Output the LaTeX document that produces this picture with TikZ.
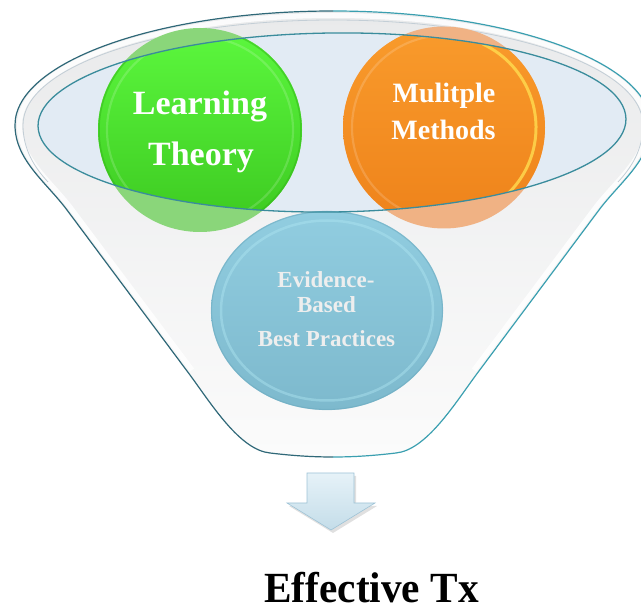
\documentclass[tikz,border=0pt]{standalone}
\usepackage{fontspec}
\setmainfont{Liberation Serif}
\definecolor{bodyTop}{HTML}{E9EAEB}
\definecolor{bodyBot}{HTML}{FBFBFB}
\definecolor{openFill}{HTML}{E2EBF4}
\definecolor{lineL}{HTML}{2F6878}
\definecolor{lineR}{HTML}{3A9FB0}
\definecolor{lineE}{HTML}{3A8C9C}
\definecolor{lipC}{HTML}{C3CED6}
\definecolor{grTop}{HTML}{5CF83E}
\definecolor{grBot}{HTML}{3CC820}
\definecolor{grFade}{HTML}{8AD67A}
\definecolor{grEdge}{HTML}{34B51A}
\definecolor{orTop}{HTML}{F99B2C}
\definecolor{orBot}{HTML}{EE821A}
\definecolor{orFade}{HTML}{F0B284}
\definecolor{orRing}{HTML}{FFD848}
\definecolor{blTop}{HTML}{91CDE0}
\definecolor{blBot}{HTML}{7DB9CD}
\definecolor{blRing}{HTML}{AEE5F1}
\definecolor{blEdge}{HTML}{6FADC2}
\definecolor{txGrey}{HTML}{EEEEEE}
\definecolor{arTop}{HTML}{E6F2F8}
\definecolor{arBot}{HTML}{C4DDE9}
\definecolor{arEdge}{HTML}{9EC3D6}
\begin{document}
\begin{tikzpicture}[x=1pt,y=-1pt,
  lbl/.style={text=white,anchor=base,inner sep=0pt},
  bigLbl/.style={lbl,font=\bfseries\fontsize{34}{40}\selectfont},
  midLbl/.style={lbl,font=\bfseries\fontsize{28}{32}\selectfont},
  smLbl/.style={lbl,text=txGrey,font=\bfseries\fontsize{23}{27}\selectfont},
  outL/.style={draw=lineL,line width=1.2pt},
  outR/.style={draw=lineR,line width=1.2pt},
  rimHi/.style={draw=white,line width=5pt,opacity=0.85},
  lip/.style={draw=lipC,line width=0.8pt},
  ringHi/.style={draw=white,line width=2.2pt,opacity=0.16}]
\useasboundingbox (0,0) rectangle (641,612);

% funnel body
\shade[top color=bodyTop,bottom color=bodyBot]
 (333,11) .. controls (508,11) and (651,62) .. (651,125)
 .. controls (651,160) and (620,182) .. (599,210)
 -- (476,375)
 .. controls (454,405) and (426,450) .. (396,453)
 .. controls (371,456) and (351,457) .. (333,457)
 .. controls (315,457) and (295,456) .. (270,453)
 .. controls (240,450) and (212,405) .. (190,375)
 -- (67,210)
 .. controls (46,182) and (15,160) .. (15,125)
 .. controls (15,62) and (158,11) .. (333,11) -- cycle;

% white rim highlight
\draw[rimHi] (333,15.5) .. controls (160,15.5) and (19.5,64) .. (19.5,125)
 .. controls (19.5,158) and (49,180) .. (70,207) -- (192,370);
\draw[rimHi] (333,15.5) .. controls (506,15.5) and (646.5,64) .. (646.5,125)
 .. controls (646.5,158) and (617,180) .. (596,207) -- (474,370);
% lip line
\draw[lip] (333,20) .. controls (162,20) and (23,66) .. (23,125)
 .. controls (23,150) and (35,168) .. (48,182);
\draw[lip] (333,20) .. controls (504,20) and (643,66) .. (643,125)
 .. controls (643,150) and (631,168) .. (618,182);

% opening of the funnel
\fill[openFill,rotate around={0.7:(332,122.5)}] (332,122.5) ellipse [x radius=294, y radius=89.5];

% faded parts of the two top circles
\fill[grFade] (200,130) circle [radius=102];
\fill[orFade] (444,127.5) circle [radius=101];

% bright parts inside the opening
\begin{scope}
\clip[rotate around={0.7:(332,122.5)}] (332,122.5) ellipse [x radius=294, y radius=89.5];
\shade[top color=grTop,bottom color=grBot] (200,130) circle [radius=102];
\draw[grEdge,line width=1.5pt,opacity=0.5] (200,130) circle [radius=101];
\draw[ringHi] (200,130) circle [radius=93];
\shade[top color=orTop,bottom color=orBot] (444,127.5) circle [radius=101];
\draw[ringHi] (444,127.5) circle [radius=92];
\draw[orRing,line width=3pt,opacity=0.8] (444,127.5) ++(-65:92) arc[start angle=-65,end angle=55,radius=92];
\end{scope}

% bottom circle
\shade[top color=blTop,bottom color=blBot] (327,310.5) ellipse [x radius=116, y radius=99.5];
\draw[blEdge,line width=1.2pt,opacity=0.6] (327,310.5) ellipse [x radius=115.5, y radius=99];
\draw[blRing,line width=2.5pt,opacity=0.45] (327,310.5) ellipse [x radius=106, y radius=90];

% outlines
\draw[outL] (333,11) .. controls (158,11) and (15,62) .. (15,125)
 .. controls (15,160) and (46,182) .. (67,210) -- (190,375)
 .. controls (212,405) and (240,450) .. (270,453)
 .. controls (295,456) and (315,457) .. (333,457);
\draw[outR] (333,11) .. controls (508,11) and (651,62) .. (651,125)
 .. controls (651,160) and (620,182) .. (599,210) -- (476,375)
 .. controls (454,405) and (426,450) .. (396,453)
 .. controls (371,456) and (351,457) .. (333,457);
\draw[lineE,line width=1.3pt,rotate around={0.7:(332,122.5)}] (332,122.5) ellipse [x radius=294, y radius=89.5];

% labels
\node[bigLbl] (lt1) at (200,115) {Learning};
\node[bigLbl] (lt2) at (201,166) {Theory};
\node[midLbl] (mm1) at (444,103) {Mulitple};
\node[midLbl] (mm2) at (443.5,140) {Methods};
\node[smLbl] (eb1) at (326,288) {Evidence-};
\node[smLbl] (eb2) at (326.5,313) {Based};
\node[smLbl] (eb3) at (326.5,347) {Best Practices};

% arrow
\fill[black,opacity=0.12] (309,476) -- (356,476) -- (356,506) -- (377,506) -- (333,533) -- (289,506) -- (309,506) -- cycle;
\shade[top color=arTop,bottom color=arBot,draw=arEdge,line width=0.6pt]
 (307,473) -- (354,473) -- (354,503) -- (375,503) -- (331,530) -- (287,503) -- (307,503) -- cycle;

\node[anchor=base,inner sep=0pt,font=\bfseries\fontsize{43}{48}\selectfont,xscale=0.96] (etx) at (371.5,603) {Effective Tx};
\end{tikzpicture}
\end{document}
